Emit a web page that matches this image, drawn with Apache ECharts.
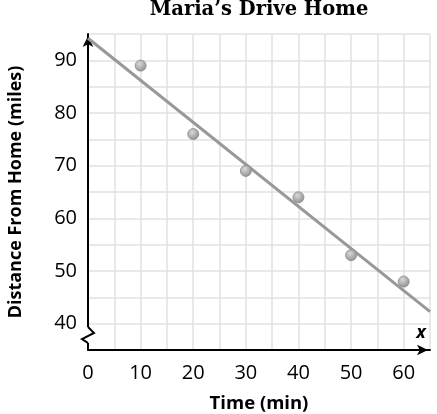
<!DOCTYPE html>
<html>
<head>
<meta charset="utf-8">
<script src="https://cdn.jsdelivr.net/npm/echarts@6/dist/echarts.min.js"></script>
<style>
  html, body { margin: 0; padding: 0; background: #fff; }
  #chart { width: 437px; height: 414px; }
</style>
</head>
<body>
<div id="chart"></div>
<script>
// data
var times = [10, 20, 30, 40, 50, 60];
var distances = [89, 76, 69, 64, 53, 48];
var trendTimes = [0, 65];
var trendDistances = [94.2, 42.3];
var xTickLabels = [0, 10, 20, 30, 40, 50, 60];
var yTickLabels = [40, 50, 60, 70, 80, 90];

var sans = '"Open Sans", "Noto Sans", sans-serif';

var chart = echarts.init(document.getElementById('chart'));

chart.setOption({
    animation: false,
    grid: {
        left: 88,
        right: 7,
        top: 34,
        bottom: 64,
        outerBoundsMode: 'none',
        containLabel: false
    },
    xAxis: {
        type: 'value',
        min: 0,
        max: 65,
        interval: 5,
        name: 'Time (min)',
        nameLocation: 'middle',
        nameGap: 44,
        nameTextStyle: { fontFamily: sans, fontWeight: 'bold', fontSize: 18.5, color: '#000' },
        axisLine: {
            lineStyle: { color: '#000', width: 2 },
            symbol: ['none', 'arrow'],
            symbolSize: [8, 11],
            symbolOffset: [0, -2]
        },
        axisTick: { show: false },
        axisLabel: {
            margin: 13,
            fontFamily: sans,
            fontSize: 20,
            color: '#000',
            showMaxLabel: true,
            formatter: function (v) {
                return xTickLabels.indexOf(v) >= 0 ? String(v) : '';
            }
        },
        splitLine: { show: true, lineStyle: { color: '#e2e2e2', width: 1.5 } }
    },
    yAxis: {
        type: 'value',
        min: 35,
        max: 95,
        interval: 5,
        name: 'Distance From Home (miles)',
        nameLocation: 'middle',
        nameGap: 63,
        nameTextStyle: { fontFamily: sans, fontWeight: 'bold', fontSize: 18, color: '#000' },
        axisLine: {
            lineStyle: { color: '#000', width: 2 },
            symbol: ['none', 'arrow'],
            symbolSize: [8, 11],
            symbolOffset: [0, -2]
        },
        axisTick: { show: false },
        axisLabel: {
            margin: 11,
            fontFamily: sans,
            fontSize: 20,
            color: '#000',
            formatter: function (v) {
                return yTickLabels.indexOf(v) >= 0 ? String(v) : '';
            }
        },
        splitLine: { show: true, lineStyle: { color: '#e2e2e2', width: 1.5 } }
    },
    series: [
        {
            type: 'line',
            data: trendTimes.map(function (t, i) { return [t, trendDistances[i]]; }),
            showSymbol: false,
            lineStyle: { color: '#989898', width: 3 },
            z: 2
        },
        {
            type: 'scatter',
            data: times.map(function (t, i) { return [t, distances[i]]; }),
            symbolSize: 11,
            itemStyle: {
                color: new echarts.graphic.RadialGradient(0.4, 0.35, 0.7, [
                    { offset: 0, color: '#d8d8d8' },
                    { offset: 1, color: '#8c8c8c' }
                ]),
                borderColor: '#8a8a8a',
                borderWidth: 0.8,
                opacity: 1
            },
            z: 3
        }
    ]
});

// title, axis break on the y axis and the "x" mark, placed from the axis scale
var origin = chart.convertToPixel({ gridIndex: 0 }, [0, 35]);
var end = chart.convertToPixel({ gridIndex: 0 }, [65, 35]);
var ox = origin[0], oy = origin[1];
chart.setOption({
    graphic: [
        {
            type: 'text',
            style: {
                text: 'Maria\u2019s Drive Home',
                x: (ox + end[0]) / 2,
                y: 0,
                textAlign: 'center',
                textVerticalAlign: 'top',
                font: 'bold 19.5px "DejaVu Serif", serif',
                fill: '#000'
            }
        },
        {
            type: 'rect',
            shape: { x: ox - 2, y: oy - 23, width: 4, height: 16 },
            style: { fill: '#fff' },
            z: 100
        },
        {
            type: 'polyline',
            shape: {
                points: [
                    [ox, oy - 23],
                    [ox + 6, oy - 17],
                    [ox - 6, oy - 11],
                    [ox, oy - 7]
                ]
            },
            style: { stroke: '#000', lineWidth: 2, fill: null },
            z: 101
        },
        {
            type: 'text',
            style: {
                text: 'x',
                x: end[0] - 9,
                y: oy - 8,
                textAlign: 'center',
                textVerticalAlign: 'bottom',
                font: 'italic bold 18px ' + sans,
                fill: '#000'
            },
            z: 101
        }
    ]
});
</script>
</body>
</html>
